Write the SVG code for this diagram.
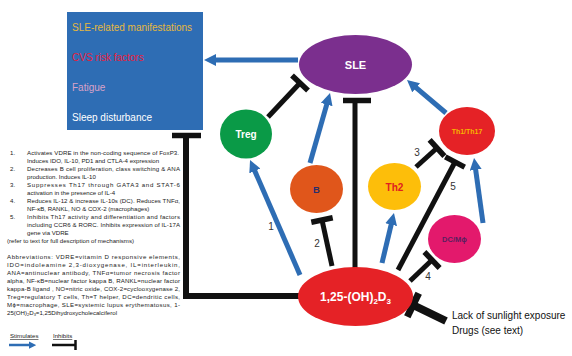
<svg xmlns="http://www.w3.org/2000/svg" width="572" height="356" viewBox="0 0 572 356">
<defs>
<marker id="ah" viewBox="0 0 10 10" refX="3" refY="5" markerWidth="2.4" markerHeight="2.4" orient="auto">
<path d="M0,0 L10,5 L0,10 z" fill="#2E6DB4"/>
</marker>
<marker id="ahs" viewBox="0 0 10 10" refX="3" refY="5" markerWidth="3" markerHeight="3" orient="auto">
<path d="M0,0 L10,5 L0,10 z" fill="#2E6DB4"/>
</marker>
<style>
.stim{stroke:#2E6DB4;stroke-width:5;fill:none;marker-end:url(#ah)}
.inh{stroke:#111;stroke-width:5;fill:none}
.bar{stroke:#111;stroke-width:5.5;fill:none}
.nt{font-family:"Liberation Sans",Arial,sans-serif;font-weight:bold;text-anchor:middle;dominant-baseline:central}
.bx{font-family:"Liberation Sans",Arial,sans-serif;font-size:10px}
.sm{font-family:"Liberation Sans",Arial,sans-serif;font-size:6.1px;fill:#222}
.num{font-family:"Liberation Sans",Arial,sans-serif;font-size:10px;fill:#333;text-anchor:middle;dominant-baseline:central}
</style>
</defs>
<rect width="572" height="356" fill="#fff"/>

<g id="box">
<rect x="67" y="12" width="136" height="118" fill="#2E6DB4"/>
<text class="bx" x="72" y="31" fill="#E6B83E">SLE-related manifestations</text>
<text class="bx" x="72" y="61" fill="#E8203C">CVS risk factors</text>
<text class="bx" x="72" y="91" fill="#D9A2C8">Fatigue</text>
<text class="bx" x="72" y="121" fill="#fff">Sleep disturbance</text>
</g>

<g id="connectors">
<line class="stim" x1="298" y1="60" x2="212.4" y2="60"/>
<line class="stim" x1="310" y1="163" x2="327.7" y2="101.1"/>
<line class="stim" x1="446" y1="113" x2="413.4" y2="85.4"/>
<line class="stim" x1="483" y1="223" x2="475.2" y2="166.3"/>
<line class="stim" x1="382" y1="263" x2="392" y2="221.2"/>
<line class="stim" x1="300" y1="275" x2="253.4" y2="167.7"/>

<line class="inh" x1="268" y1="117" x2="300" y2="83"/>
<line class="bar" x1="292" y1="75.5" x2="308" y2="90.5"/>

<line class="inh" x1="355" y1="268" x2="355" y2="101"/>
<line class="bar" x1="343" y1="100.5" x2="371" y2="100.5"/>

<line class="inh" x1="332" y1="266" x2="322" y2="220"/>
<line class="bar" x1="311.3" y1="222.3" x2="332.7" y2="217.7"/>

<line class="inh" x1="416" y1="167" x2="437" y2="148"/>
<line class="bar" x1="429.6" y1="139.8" x2="444.4" y2="156.2"/>

<line class="inh" x1="398" y1="270" x2="455" y2="162"/>
<line class="bar" x1="445.3" y1="156.9" x2="464.7" y2="167.1"/>

<line class="inh" x1="410" y1="281" x2="432" y2="260"/>
<line class="bar" x1="424.4" y1="252" x2="439.6" y2="268"/>

<line class="inh" x1="446" y1="321" x2="413" y2="305" style="stroke-width:8"/>
<line class="bar" x1="418.7" y1="293.3" x2="407.3" y2="316.7" style="stroke-width:7"/>

<polyline class="inh" points="299,296 186,296 186,137" style="stroke-width:6"/>
<line class="bar" x1="172" y1="135.5" x2="201" y2="135.5"/>

<text class="num" x="271" y="226">1</text>
<text class="num" x="317" y="243">2</text>
<text class="num" x="417" y="152">3</text>
<text class="num" x="428" y="276">4</text>
<text class="num" x="453" y="186">5</text>
</g>

<g id="sle">
<ellipse cx="355.5" cy="64.5" rx="56.5" ry="29.5" fill="#7B2F8E"/>
<text class="nt" x="355.5" y="65" font-size="11" fill="#fff">SLE</text>
</g>
<g id="treg">
<ellipse cx="246" cy="134" rx="26" ry="24.5" fill="#0A9A47"/>
<text class="nt" x="246" y="134" font-size="10" fill="#fff">Treg</text>
</g>
<g id="b">
<ellipse cx="316.5" cy="189" rx="26.5" ry="24" fill="#E0561B"/>
<text class="nt" x="316.5" y="189" font-size="9.5" fill="#2B2F6B">B</text>
</g>
<g id="th1th17">
<ellipse cx="467" cy="131" rx="28" ry="24" fill="#E52226"/>
<text class="nt" x="467" y="131" font-size="7" fill="#F7B500">Th1/Th17</text>
</g>
<g id="th2">
<ellipse cx="394.5" cy="186.5" rx="26.5" ry="23.5" fill="#FDBE0A"/>
<text class="nt" x="394.5" y="187" font-size="10" fill="#E02020">Th2</text>
</g>
<g id="dc">
<ellipse cx="454.5" cy="239" rx="26.5" ry="24" fill="#E3196C"/>
<text class="nt" x="454.5" y="239" font-size="7.5" fill="#5B1F5F">DC/Mϕ</text>
</g>
<g id="vitd">
<ellipse cx="355.5" cy="296.5" rx="57.5" ry="29.5" fill="#E52226"/>
<text class="nt" x="355.5" y="297" font-size="12" fill="#fff" style="dominant-baseline:auto" dy="4">1,25-(OH)<tspan font-size="8" dy="3">2</tspan><tspan dy="-3">D</tspan><tspan font-size="8" dy="3">3</tspan></text>
</g>

<g id="sunlight">
<text x="452" y="319" font-family="Liberation Sans, Arial, sans-serif" font-size="10" fill="#111">Lack of sunlight exposure</text>
<text x="452" y="334" font-family="Liberation Sans, Arial, sans-serif" font-size="10" fill="#111">Drugs (see text)</text>
</g>

<g id="notes">
<text class="sm" x="10" y="155">1.</text>
<text class="sm" x="27" y="155" textLength="152" lengthAdjust="spacing">Activates VDRE in the non-coding sequence of FoxP3.</text>
<text class="sm" x="27" y="163">Induces IDO, IL-10, PD1 and CTLA-4 expression</text>
<text class="sm" x="10" y="171">2.</text>
<text class="sm" x="27" y="171" textLength="153" lengthAdjust="spacing">Decreases B cell proliferation, class switching &amp; ANA</text>
<text class="sm" x="27" y="179">production. Induces IL-10</text>
<text class="sm" x="10" y="187">3.</text>
<text class="sm" x="27" y="187" textLength="153" lengthAdjust="spacing">Suppresses Th17 through GATA3 and STAT-6</text>
<text class="sm" x="27" y="195">activation in the presence of IL-4</text>
<text class="sm" x="10" y="203">4.</text>
<text class="sm" x="27" y="203" textLength="153" lengthAdjust="spacing">Reduces IL-12 &amp; increase IL-10s (DC). Reduces TNFα,</text>
<text class="sm" x="27" y="211">NF-κB, RANKL, NO &amp; COX-2 (macrophages)</text>
<text class="sm" x="10" y="219">5.</text>
<text class="sm" x="27" y="219" textLength="153" lengthAdjust="spacing">Inhibits Th17 activity and differentiation and factors</text>
<text class="sm" x="27" y="227" textLength="153" lengthAdjust="spacing">including CCR6 &amp; RORC. Inhibits expression of IL-17A</text>
<text class="sm" x="27" y="235">gene via VDRE</text>
<text class="sm" x="7" y="243">(refer to text for full description of mechanisms)</text>

<text class="sm" x="7" y="259" textLength="173" lengthAdjust="spacing">Abbreviations: VDRE=vitamin D responsive elements,</text>
<text class="sm" x="7" y="267" textLength="173" lengthAdjust="spacing">IDO=indoleamine 2,3-dioxygenase, IL=interleukin,</text>
<text class="sm" x="7" y="275" textLength="173" lengthAdjust="spacing">ANA=antinuclear antibody, TNFα=tumor necrosis factor</text>
<text class="sm" x="7" y="283" textLength="173" lengthAdjust="spacing">alpha, NF-κB=nuclear factor kappa B, RANKL=nuclear factor</text>
<text class="sm" x="7" y="291" textLength="173" lengthAdjust="spacing">kappa-B ligand , NO=nitric oxide, COX-2=cyclooxygenase 2,</text>
<text class="sm" x="7" y="299" textLength="173" lengthAdjust="spacing">Treg=regulatory T cells, Th=T helper, DC=dendritic cells,</text>
<text class="sm" x="7" y="307" textLength="173" lengthAdjust="spacing">Mϕ=macrophage, SLE=systemic lupus erythematosus, 1-</text>
<text class="sm" x="7" y="315">25(OH)<tspan font-size="4" dy="1">2</tspan><tspan dy="-1">D</tspan><tspan font-size="4" dy="1">3</tspan><tspan dy="-1">=1,25Dihydroxycholecalciferol</tspan></text>
</g>

<g id="legend">
<text class="sm" x="10" y="338" text-decoration="underline">Stimulates</text>
<line x1="9" y1="345" x2="31" y2="345" stroke="#2E6DB4" stroke-width="2.5" marker-end="url(#ahs)"/>
<text class="sm" x="53" y="338" text-decoration="underline">Inhibits</text>
<line x1="52" y1="345" x2="75" y2="345" stroke="#111" stroke-width="2.5"/>
<line x1="75.5" y1="340" x2="75.5" y2="350" stroke="#111" stroke-width="2.5"/>
</g>
</svg>
